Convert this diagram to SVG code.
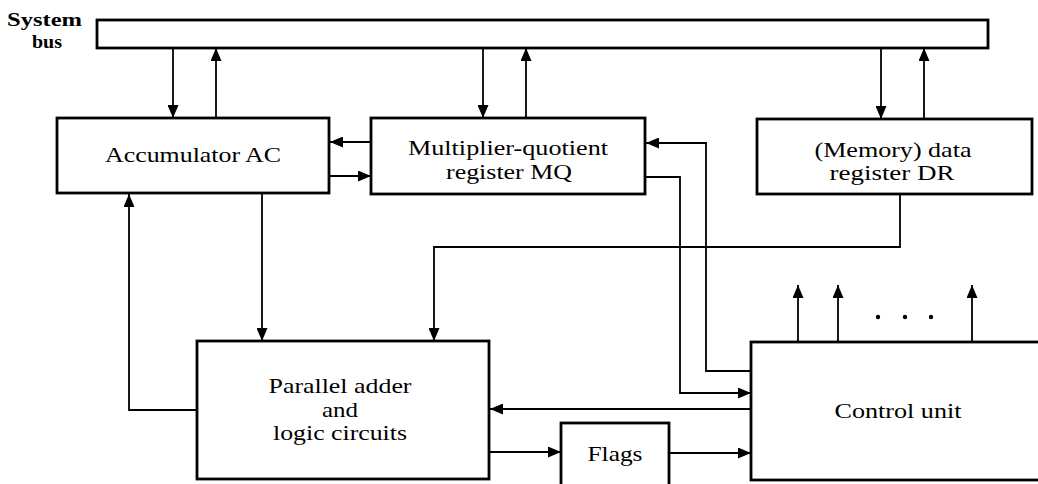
<svg xmlns="http://www.w3.org/2000/svg" width="1038" height="484" viewBox="0 0 1038 484">
<style>
.box{fill:#fff;stroke:#000;stroke-width:2.8}
.wire{fill:none;stroke:#000;stroke-width:1.8}
.arr{marker-end:url(#ah)}
.lbl{font-family:"Liberation Serif","Times New Roman",serif;font-size:21px;fill:#000;text-anchor:middle}
.bus{font-family:"Liberation Serif","Times New Roman",serif;font-size:19px;font-weight:bold;fill:#000}
</style>
<defs>
<marker id="ah" viewBox="0 0 13 11" refX="13" refY="5.5" markerWidth="13" markerHeight="11" markerUnits="userSpaceOnUse" orient="auto">
<path d="M0,0 L13,5.5 L0,11 z" fill="#000"/>
</marker>
</defs>
<rect width="1038" height="484" fill="#fff"/>

<g id="system-bus">
<rect class="box" x="97" y="20" width="891" height="28"/>
<text class="bus" x="7" y="26" textLength="75" lengthAdjust="spacingAndGlyphs">System</text>
<text class="bus" x="32" y="48" textLength="30" lengthAdjust="spacingAndGlyphs">bus</text>
</g>

<g id="connectors">
<line class="wire arr" x1="173" y1="48" x2="173" y2="118"/>
<line class="wire arr" x1="216" y1="118" x2="216" y2="48"/>
<line class="wire arr" x1="483" y1="48" x2="483" y2="118"/>
<line class="wire arr" x1="526" y1="118" x2="526" y2="48"/>
<line class="wire arr" x1="881" y1="48" x2="881" y2="119"/>
<line class="wire arr" x1="924" y1="119" x2="924" y2="48"/>
<line class="wire arr" x1="371" y1="142" x2="330" y2="142"/>
<line class="wire arr" x1="330" y1="176" x2="371" y2="176"/>
<line class="wire arr" x1="262" y1="193" x2="262" y2="341"/>
<polyline class="wire arr" points="197,410 129,410 129,194"/>
<polyline class="wire arr" points="900,194 900,247 434,247 434,341"/>
<polyline class="wire arr" points="645,177 680,177 680,393 751,393"/>
<polyline class="wire arr" points="751,371 706,371 706,143 646,143"/>
<line class="wire arr" x1="751" y1="409" x2="490" y2="409"/>
<line class="wire arr" x1="489" y1="452" x2="561" y2="452"/>
<line class="wire arr" x1="669" y1="453" x2="751" y2="453"/>
<line class="wire arr" x1="798" y1="342" x2="798" y2="285"/>
<line class="wire arr" x1="838" y1="342" x2="838" y2="285"/>
<line class="wire arr" x1="972" y1="342" x2="972" y2="285"/>
<circle cx="878" cy="317" r="2.2"/>
<circle cx="905" cy="317" r="2.2"/>
<circle cx="931" cy="317" r="2.2"/>
</g>

<g id="accumulator">
<rect class="box" x="57" y="118" width="272" height="75"/>
<text class="lbl" x="193" y="162" textLength="176" lengthAdjust="spacingAndGlyphs">Accumulator AC</text>
</g>

<g id="mq">
<rect class="box" x="371" y="118" width="274" height="76"/>
<text class="lbl" x="508" y="155" textLength="200" lengthAdjust="spacingAndGlyphs">Multiplier-quotient</text>
<text class="lbl" x="509" y="179" textLength="126" lengthAdjust="spacingAndGlyphs">register MQ</text>
</g>

<g id="dr">
<rect class="box" x="757" y="119" width="275" height="75"/>
<text class="lbl" x="893" y="157" textLength="157" lengthAdjust="spacingAndGlyphs">(Memory) data</text>
<text class="lbl" x="892" y="180" textLength="125" lengthAdjust="spacingAndGlyphs">register DR</text>
</g>

<g id="adder">
<rect class="box" x="197" y="341" width="292" height="138"/>
<text class="lbl" x="340" y="393" textLength="143" lengthAdjust="spacingAndGlyphs">Parallel adder</text>
<text class="lbl" x="340" y="417" textLength="36" lengthAdjust="spacingAndGlyphs">and</text>
<text class="lbl" x="340" y="440" textLength="134" lengthAdjust="spacingAndGlyphs">logic circuits</text>
</g>

<g id="flags">
<rect class="box" x="561" y="423" width="108" height="70"/>
<text class="lbl" x="615" y="461" textLength="55" lengthAdjust="spacingAndGlyphs">Flags</text>
</g>

<g id="control-unit">
<rect class="box" x="751" y="342" width="300" height="138"/>
<text class="lbl" x="898" y="418" textLength="127" lengthAdjust="spacingAndGlyphs">Control unit</text>
</g>
</svg>
